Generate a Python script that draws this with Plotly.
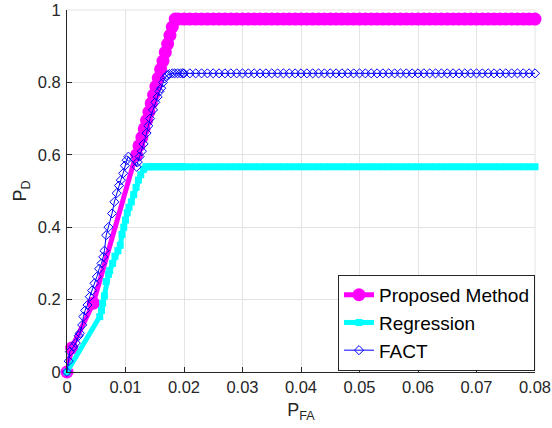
import plotly.graph_objects as go

# ---- data ----
tail_x = [0.020, 0.021, 0.022, 0.023, 0.024, 0.025, 0.026, 0.027, 0.028, 0.029,
          0.030, 0.031, 0.032, 0.033, 0.034, 0.035, 0.036, 0.037, 0.038, 0.039,
          0.040, 0.041, 0.042, 0.043, 0.044, 0.045, 0.046, 0.047, 0.048, 0.049,
          0.050, 0.051, 0.052, 0.053, 0.054, 0.055, 0.056, 0.057, 0.058, 0.059,
          0.060, 0.061, 0.062, 0.063, 0.064, 0.065, 0.066, 0.067, 0.068, 0.069,
          0.070, 0.071, 0.072, 0.073, 0.074, 0.075, 0.076, 0.077, 0.078, 0.079,
          0.080]

prop_x = [0, 0.0008, 0.0045, 0.0119, 0.0123, 0.0128, 0.0132, 0.0136, 0.014,
          0.0144, 0.0148, 0.0152, 0.0156, 0.016, 0.0164, 0.0168, 0.0172,
          0.0176, 0.018, 0.0185, 0.019] + tail_x
prop_y = [0, 0.066, 0.19, 0.60, 0.625, 0.648, 0.672, 0.695, 0.718,
          0.742, 0.765, 0.789, 0.812, 0.836, 0.859, 0.883, 0.906,
          0.93, 0.953, 0.975, 0.975] + [0.975] * len(tail_x)

reg_x = [0, 0.0056, 0.0059, 0.0061, 0.0064, 0.0067, 0.0071, 0.0073, 0.0078, 0.0082,
         0.0087, 0.0091, 0.0094, 0.0097, 0.01, 0.0103, 0.0106, 0.011, 0.0114,
         0.0118, 0.0122, 0.0126, 0.0131, 0.0135, 0.0139, 0.0143, 0.0148, 0.0153,
         0.0158, 0.0163, 0.0168, 0.0173, 0.0178, 0.0183, 0.0188, 0.0193, 0.0197] + tail_x
reg_y = [0, 0.153, 0.17, 0.19, 0.21, 0.25, 0.27, 0.28, 0.30, 0.32,
         0.335, 0.35, 0.38, 0.40, 0.42, 0.44, 0.455, 0.47, 0.49,
         0.51, 0.53, 0.545, 0.56, 0.567, 0.567, 0.567, 0.567, 0.567,
         0.567, 0.567, 0.567, 0.567, 0.567, 0.567, 0.567, 0.567, 0.567] + [0.567] * len(tail_x)

fact_x = [0, 0.0003, 0.0005, 0.0011, 0.0015, 0.002, 0.0022, 0.0026, 0.0028, 0.0031,
          0.0035, 0.0039, 0.0043, 0.0047, 0.0051, 0.0055, 0.0059, 0.0062, 0.0064,
          0.0067, 0.0071, 0.0077, 0.0081, 0.0085, 0.0089, 0.0092, 0.0096, 0.0099,
          0.0102, 0.0105, 0.0119, 0.0121, 0.0124, 0.0128, 0.0131, 0.0136, 0.0139,
          0.0142, 0.0147, 0.0151, 0.0155, 0.0158, 0.0161, 0.0164, 0.0167, 0.0171,
          0.0175, 0.018, 0.0184, 0.0189, 0.0194, 0.0198] + tail_x
fact_y = [0, 0.03, 0.056, 0.07, 0.08, 0.10, 0.107, 0.13, 0.153, 0.17,
          0.185, 0.208, 0.225, 0.245, 0.263, 0.285, 0.30, 0.318, 0.335,
          0.378, 0.40, 0.438, 0.47, 0.494, 0.515, 0.53, 0.549, 0.57,
          0.585, 0.595, 0.567, 0.58, 0.595, 0.61, 0.63, 0.66, 0.68,
          0.70, 0.724, 0.745, 0.76, 0.775, 0.784, 0.80, 0.811, 0.82,
          0.823, 0.825, 0.825, 0.825, 0.825, 0.825] + [0.825] * len(tail_x)

x_ticks = [0, 0.01, 0.02, 0.03, 0.04, 0.05, 0.06, 0.07, 0.08]
x_tick_labels = ["0", "0.01", "0.02", "0.03", "0.04", "0.05", "0.06", "0.07", "0.08"]
y_ticks = [0, 0.2, 0.4, 0.6, 0.8, 1]
y_tick_labels = ["0", "0.2", "0.4", "0.6", "0.8", "1"]

FONT = "Liberation Sans, Arial, sans-serif"
TXT = "#262626"
GRID = "#e3e3e3"

fig = go.Figure()
fig.add_trace(go.Scatter(
    x=prop_x, y=prop_y, mode="lines+markers", name="Proposed Method",
    line=dict(color="#ff00ff", width=5),
    marker=dict(symbol="circle", size=13, color="#ff00ff"),
    cliponaxis=False))
fig.add_trace(go.Scatter(
    x=reg_x, y=reg_y, mode="lines+markers", name="Regression",
    line=dict(color="#00ffff", width=5),
    marker=dict(symbol="square", size=7, color="#00ffff"),
    cliponaxis=False))
fig.add_trace(go.Scatter(
    x=fact_x, y=fact_y, mode="lines+markers", name="FACT",
    line=dict(color="#0000ff", width=1),
    marker=dict(symbol="diamond-open", size=7, color="#0000ff", line=dict(width=1)),
    cliponaxis=False))

# light grid lines along the top and right edges of the axes box
fig.add_shape(type="line", xref="paper", yref="paper", x0=0, x1=1, y0=1, y1=1,
              line=dict(color=GRID, width=1), layer="below")
fig.add_shape(type="line", xref="paper", yref="paper", x0=1, x1=1, y0=0, y1=1,
              line=dict(color=GRID, width=1), layer="below")

fig.update_layout(
    template="none",
    width=552, height=428,
    margin=dict(l=67, r=17, t=10, b=56, autoexpand=False),
    paper_bgcolor="white", plot_bgcolor="white",
    font=dict(family=FONT, color=TXT, size=16),
    showlegend=True,
    legend=dict(
        x=1.0, xanchor="right", y=0.003, yanchor="bottom",
        bgcolor="white", bordercolor="#262626", borderwidth=1,
        font=dict(size=19, color="black", family=FONT),
        tracegroupgap=0, itemwidth=30,
    ),
    xaxis=dict(
        range=[0, 0.0800001], tickvals=x_ticks, ticktext=x_tick_labels,
        automargin=False, ticklabeloverflow="allow",
        showgrid=True, gridcolor=GRID, gridwidth=1,
        showline=True, linecolor=TXT, linewidth=1,
        ticks="inside", ticklen=5, tickcolor=TXT,
        zeroline=False, tickfont=dict(size=16.5, color=TXT),
        title=dict(text="P<sub>FA</sub>", font=dict(size=18, color=TXT), standoff=8),
    ),
    yaxis=dict(
        range=[0, 1.0000001], tickvals=y_ticks, ticktext=y_tick_labels,
        automargin=False, ticklabeloverflow="allow",
        showgrid=True, gridcolor=GRID, gridwidth=1,
        showline=True, linecolor=TXT, linewidth=1,
        ticks="inside", ticklen=5, tickcolor=TXT,
        zeroline=False, tickfont=dict(size=16.5, color=TXT),
        ticklabelstandoff=2,
        title=dict(text="P<sub>D</sub>", font=dict(size=18, color=TXT), standoff=6),
    ),
)

fig.write_html("out.html")
